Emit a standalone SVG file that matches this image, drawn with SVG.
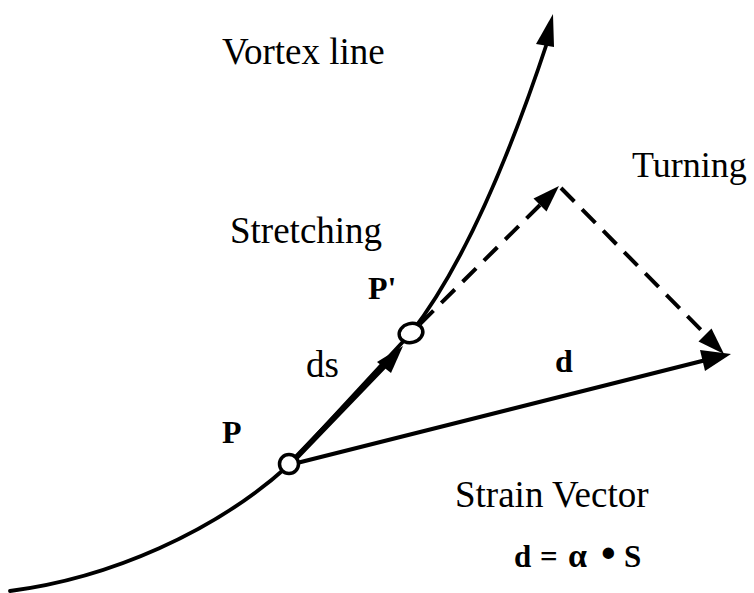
<svg xmlns="http://www.w3.org/2000/svg" width="754" height="593" viewBox="0 0 754 593">
<style>
.t{font-family:"Liberation Serif","Times New Roman",serif;fill:#000}
.b{font-weight:bold}
.ln{fill:none;stroke:#000;stroke-linecap:round}
.ds{fill:none;stroke:#000;stroke-width:4;stroke-dasharray:19 11}
.ah{fill:#000;stroke:none}
</style>
<rect width="754" height="593" fill="#fff"/>
<g id="connectors">
<path id="vortex-line" class="ln" stroke-width="3.8" d="M10,591 C110,578 215,532 289,465 L411,333 C460,270 505,170 548,40"/>
<polygon class="ah" points="553,14 536,44 554,47"/>
<line id="ds-arrow" class="ln" stroke-width="5.5" x1="289" y1="465" x2="390" y2="360"/>
<polygon class="ah" points="403,346 377,362 391,373"/>
<line id="d-arrow" class="ln" stroke-width="4.2" x1="289" y1="465" x2="710" y2="359"/>
<polygon class="ah" points="731,354 700,350 705,371"/>
<line id="stretch-dash" class="ds" x1="420" y1="324" x2="541" y2="204"/>
<polygon class="ah" points="559,186 533.5,198.5 546.5,211.5"/>
<line id="turn-dash" class="ds" x1="561" y1="188" x2="706" y2="335"/>
<polygon class="ah" points="724,354 711.5,328.5 698.5,341.5"/>
</g>
<g id="node-P">
<circle cx="289" cy="464" r="9.5" fill="#fff" stroke="#000" stroke-width="3.5"/>
<text class="t b" x="222" y="443" font-size="32">P</text>
</g>
<g id="node-Pprime">
<ellipse cx="411" cy="333" rx="12" ry="9.5" fill="#fff" stroke="#000" stroke-width="3.5" transform="rotate(-15 411 333)"/>
<text class="t b" x="368" y="299" font-size="32">P'</text>
</g>
<g id="labels">
<text class="t" x="222" y="64" font-size="37">Vortex line</text>
<text class="t" x="632" y="177" font-size="36">Turning</text>
<text class="t" x="230" y="243" font-size="37">Stretching</text>
<text class="t" x="306" y="377" font-size="37">ds</text>
<text class="t b" x="555" y="372" font-size="32">d</text>
<text class="t" x="455" y="507" font-size="37">Strain Vector</text>
<text class="t b" y="567" font-size="31"><tspan x="514">d</tspan><tspan x="540">=</tspan><tspan x="568" font-size="34">α</tspan><tspan x="601" font-size="42">•</tspan><tspan x="624">S</tspan></text>
</g>
</svg>
